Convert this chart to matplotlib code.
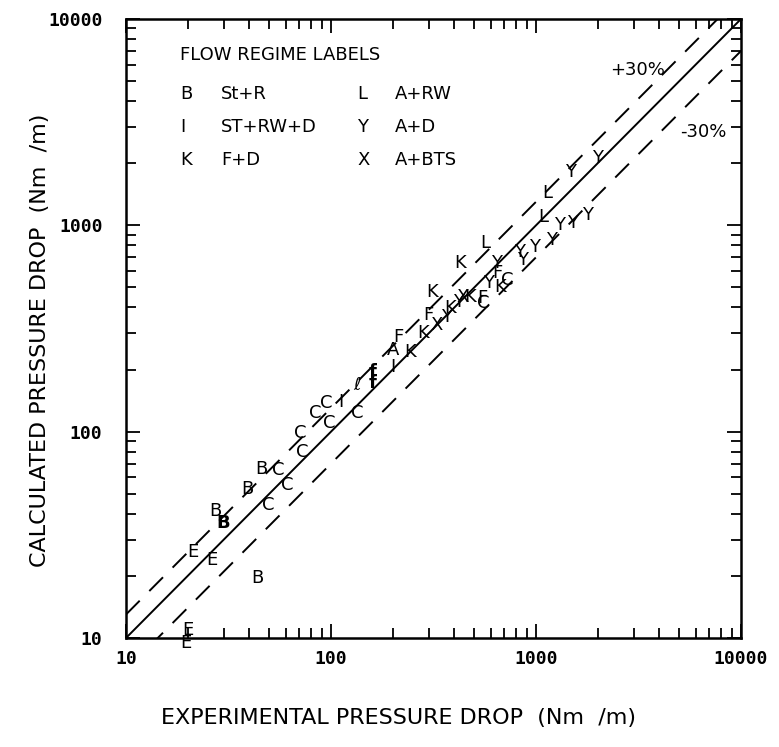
import matplotlib
matplotlib.use("Agg")
import matplotlib.pyplot as plt
import numpy as np
from matplotlib.ticker import LogLocator, FixedLocator, FixedFormatter, NullFormatter

# ---- data (experimental, calculated) ----
E_x = [21.2, 26.3, 20.0, 19.6]
E_y = [26.1, 23.9, 10.9, 9.5]

B_x = [27.2, 38.9, 46.0, 43.5]
B_y = [41.3, 52.7, 65.9, 19.5]
Bbold_x = [29.7]
Bbold_y = [36.1]

C_x = [49.3, 55.1, 61.0, 72.2, 70.6, 83.6, 94.6, 97.8, 135]
C_y = [44.2, 65.2, 55.2, 79.8, 98.6, 123, 138, 110, 123]

I_x = [112, 200]
I_y = [139, 206]

l_x = [134]
l_y = [168]

Fb_x = [160, 160]
Fb_y = [195, 172]

A_x = [200]
A_y = [249]

F_x = [212, 297, 545, 645]
F_y = [288, 368, 445, 588]

K_x = [243, 281, 380, 476, 667, 311, 426]
K_y = [243, 301, 398, 450, 503, 475, 657]

X_x = [329, 441]
X_y = [329, 450]

L_x = [564, 1090, 1132]
L_y = [822, 1100, 1436]

Y_x = [368, 417, 584, 645, 835, 864, 989, 1197, 1309, 1499, 1775, 1466, 1986]
Y_y = [360, 426, 526, 657, 743, 679, 785, 849, 1004, 1028, 1123, 1816, 2124]

Cbox_x = [551, 722]
Cbox_y = [421, 543]

legend_codes = ["B", "I", "K", "L", "Y", "X"]
legend_names = ["St+R", "ST+RW+D", "F+D", "A+RW", "A+D", "A+BTS"]

x_ticks = [10, 100, 1000, 10000]
x_ticklabels = ["10", "100", "1000", "10000"]

fig = plt.figure(figsize=(7.79, 7.47), dpi=100)
ax = fig.add_axes([126/779, (747-638)/747, 615/779, 619/747])
ax.set_xscale("log")
ax.set_yscale("log")
ax.set_xlim(10, 10000)
ax.set_ylim(10, 10000)

line = np.array([10, 10000])
ax.plot(line, line, color="black", lw=1.4)
ax.plot(line, line * 1.3, color="black", lw=1.4, dashes=(10, 7))
ax.plot(line, line * 0.7, color="black", lw=1.4, dashes=(10, 7))

fs_pt = 13
def put(xs, ys, s, weight="normal"):
    for x, y in zip(xs, ys):
        ax.text(x, y, s, ha="center", va="center", fontsize=fs_pt,
                fontweight=weight, family="DejaVu Sans", clip_on=False)

put(E_x, E_y, "E")
put(B_x, B_y, "B")
put(Bbold_x, Bbold_y, "B", weight="bold")
put(C_x, C_y, "C")
put(I_x, I_y, "I")
put(l_x, l_y, "ℓ")
put(Fb_x, Fb_y, "f", weight="bold")
put(A_x, A_y, "A")
put(F_x, F_y, "F")
put(K_x, K_y, "K")
put(X_x, X_y, "X")
put(L_x, L_y, "L")
put(Y_x, Y_y, "Y")
put(Cbox_x, Cbox_y, "C")

# legend block (text in axes fraction)
def fx(px):
    return (px - 126) / 615
def fy(py):
    return (638 - py) / 619

ax.text(fx(180), fy(55), "FLOW REGIME LABELS", transform=ax.transAxes,
        ha="left", va="center", fontsize=13)
rows = [94, 127, 160]
for i in range(3):
    ax.text(fx(180), fy(rows[i]), legend_codes[i], transform=ax.transAxes,
            ha="left", va="center", fontsize=13)
    ax.text(fx(221), fy(rows[i]), legend_names[i], transform=ax.transAxes,
            ha="left", va="center", fontsize=13)
    ax.text(fx(357), fy(rows[i]), legend_codes[i + 3], transform=ax.transAxes,
            ha="left", va="center", fontsize=13)
    ax.text(fx(395), fy(rows[i]), legend_names[i + 3], transform=ax.transAxes,
            ha="left", va="center", fontsize=13)

ax.text(fx(638), fy(70), "+30%", transform=ax.transAxes, ha="center",
        va="center", fontsize=13)
ax.text(fx(703), fy(132), "-30%", transform=ax.transAxes, ha="center",
        va="center", fontsize=13)

# ticks
for axis in (ax.xaxis, ax.yaxis):
    axis.set_major_locator(FixedLocator(x_ticks))
    axis.set_major_formatter(FixedFormatter(x_ticklabels))
    axis.set_minor_locator(LogLocator(base=10, subs=np.arange(2, 10)))
    axis.set_minor_formatter(NullFormatter())
ax.tick_params(which="both", direction="in", top=True, right=True, width=1.3)
ax.tick_params(which="major", length=10)
ax.tick_params(which="minor", length=7)
ax.tick_params(axis="x", which="major", pad=9)
ax.tick_params(axis="y", which="major", pad=17)
for lab in ax.get_xticklabels() + ax.get_yticklabels():
    lab.set_family("DejaVu Sans Mono")
    lab.set_fontsize(13)
    lab.set_fontweight("bold")
for sp in ax.spines.values():
    sp.set_linewidth(1.8)

fig.text(398/779, 1 - 718/747, "EXPERIMENTAL PRESSURE DROP  (Nm  /m)",
         ha="center", va="center", fontsize=16, color="black")
fig.text(40/779, 1 - 340/747, "CALCULATED PRESSURE DROP  (Nm  /m)",
         ha="center", va="center", fontsize=16, rotation=90, color="black")

fig.savefig("out.png", dpi=100)
